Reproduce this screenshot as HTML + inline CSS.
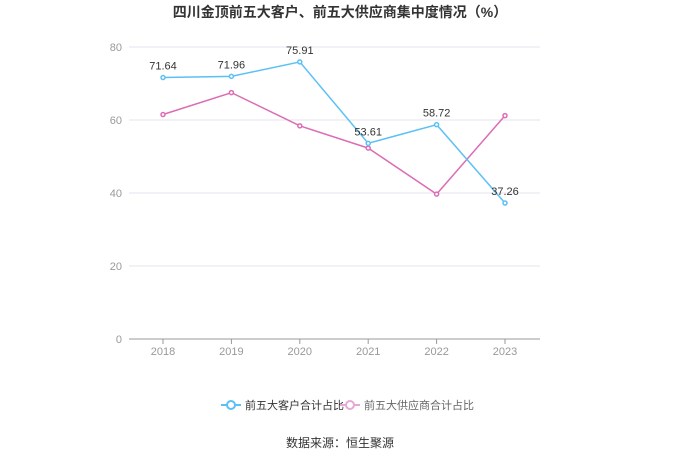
<!DOCTYPE html>
<html><head><meta charset="utf-8"><style>
body{margin:0;background:#fff;font-family:"Liberation Sans","Noto Sans CJK SC",sans-serif;}
svg text{font-family:"Liberation Sans","Noto Sans CJK SC",sans-serif;}
</style></head><body>
<svg id="c" width="680" height="460">
<text x="340" y="17" text-anchor="middle" font-size="14" font-weight="bold" fill="#333">四川金顶前五大客户、前五大供应商集中度情况（%）</text>
<g id="grid"></g><g id="series"></g>
<g>
<line x1="221" y1="405" x2="241" y2="405" stroke="#5bc0f5" stroke-width="2"/>
<circle cx="231" cy="405" r="4" fill="#fff" stroke="#5bc0f5" stroke-width="2"/>
<text x="245" y="409" font-size="11" fill="#333">前五大客户合计占比</text>
<line x1="340" y1="405" x2="360" y2="405" stroke="#e8a8d4" stroke-width="2"/>
<circle cx="350" cy="405" r="4" fill="#fff" stroke="#e8a8d4" stroke-width="2"/>
<text x="364" y="409" font-size="11" fill="#666">前五大供应商合计占比</text>
</g>
<text x="340" y="447" text-anchor="middle" font-size="12" fill="#333">数据来源：恒生聚源</text>
</svg>
<script>
const categories=["2018","2019","2020","2021","2022","2023"];
const customers=[71.64,71.96,75.91,53.61,58.72,37.26];
const suppliers=[61.5,67.5,58.4,52.3,39.7,61.2];
const yTicks=[0,20,40,60,80];
const NS="http://www.w3.org/2000/svg";
const x=i=>163+i*68.4, y=v=>339-v*3.65;
function mk(p,t,a){const e=document.createElementNS(NS,t);for(const k in a)e.setAttribute(k,a[k]);p.appendChild(e);return e;}
const g=document.getElementById('grid'), s=document.getElementById('series');
yTicks.forEach(v=>{
 const l=mk(g,'line',{x1:129,x2:540,y1:y(v),y2:y(v),stroke:v===0?'#999':'#e6e6ee'});
 
 
 const t=mk(g,'text',{x:122,y:y(v)+4,'text-anchor':'end','font-size':11,fill:'#999'});t.textContent=v;
 
 
});
categories.forEach((c,i)=>{
 mk(g,'line',{x1:x(i),x2:x(i),y1:339,y2:344,stroke:'#999'});
 const t=mk(g,'text',{x:x(i),y:355,'text-anchor':'middle','font-size':11,fill:'#999'});t.textContent=c;
 
 
});
function draw(data,color,name,labels){
 const p=mk(s,'polyline',{points:data.map((v,i)=>x(i)+','+y(v)).join(' '),fill:'none',stroke:color,'stroke-width':1.5});
 
 
 data.forEach((v,i)=>{
  const c=mk(s,'circle',{cx:x(i),cy:y(v),r:2,fill:'#fff',stroke:color,'stroke-width':1.5});
  
  
  if(labels){const t=mk(s,'text',{x:x(i),y:y(v)-8,'text-anchor':'middle','font-size':11,fill:'#333'});t.textContent=v.toFixed(2);
  
  }
 });
}
draw(suppliers,'#dc6cb4','suppliers',false);
draw(customers,'#5bc0f5','customers',true);
</script>
</body></html>
